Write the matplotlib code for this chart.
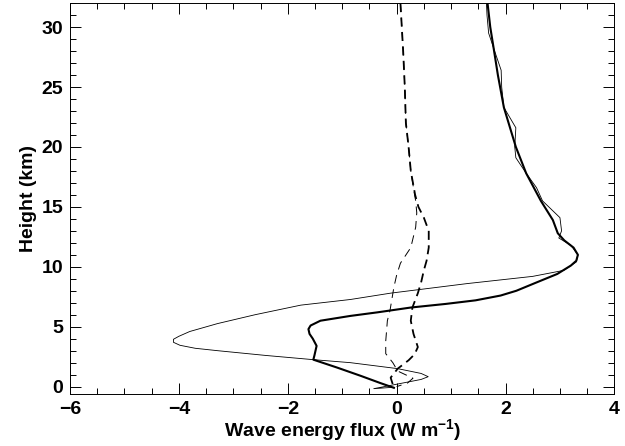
import matplotlib
matplotlib.use("Agg")
import matplotlib.pyplot as plt
from matplotlib.ticker import MultipleLocator

# thick solid profile
thick_solid_h = [32, 30, 28.3, 26, 23.3, 20, 17.8, 15.5, 13.9, 12.8, 12.2, 11.6, 11.0, 10.5,
                 10.1, 9.4, 8.6, 8.0, 7.6, 7.2, 6.9, 6.6, 6.2, 5.9, 5.5, 5.1, 4.8, 4.4, 4.0,
                 3.4, 3.0, 2.6, 2.25, 1.6, 0.9, 0.3, -0.1]
thick_solid_x = [1.67, 1.72, 1.78, 1.86, 1.97, 2.19, 2.38, 2.65, 2.87, 2.96, 3.08, 3.25, 3.33, 3.3,
                 3.2, 2.95, 2.52, 2.2, 1.91, 1.45, 0.9, 0.26, -0.35, -0.85, -1.4, -1.58, -1.62, -1.6, -1.54,
                 -1.47, -1.49, -1.51, -1.53, -1.1, -0.66, -0.3, -0.05]

# thin solid profile
thin_solid_h = [32, 31, 29.5, 28, 26.4, 25, 23.3, 21.6, 20, 19.1, 17.8, 16.6, 15.5, 14.1, 13.0, 12.4,
                11.8, 11.0, 10.4, 9.7, 9.2, 8.6, 7.8, 7.27, 6.8, 6.0, 5.26, 4.6, 4.2, 3.95, 3.7, 3.45, 3.2,
                3.0, 2.6, 2.25, 2.0, 1.5, 1.1, 0.83, 0.6, 0.2, -0.17, -0.05]
thin_solid_x = [1.65, 1.66, 1.69, 1.8, 1.92, 1.93, 1.97, 2.19, 2.17, 2.19, 2.38, 2.57, 2.68, 3.0, 3.03, 2.98,
                3.2, 3.33, 3.3, 3.07, 2.5, 1.3, -0.11, -0.85, -1.76, -2.6, -3.29, -3.8, -4.0, -4.1, -4.1, -3.98, -3.7,
                -3.29, -2.4, -1.53, -0.85, 0.02, 0.45, 0.58, 0.45, 0.0, -0.42, -0.05]

# thick dashed profile
thick_dash_h = [32, 28, 25, 22, 20, 18, 16, 15, 14.1, 13, 11.6, 10.5, 9.7, 8.7, 7.8, 6.6,
                5.5, 4.4, 3.3, 2.7, 2.2, 1.5, 0.75, -0.1]
thick_dash_x = [0.07, 0.12, 0.15, 0.17, 0.22, 0.26, 0.34, 0.4, 0.5, 0.59, 0.59, 0.55, 0.5, 0.45, 0.39, 0.29,
                0.26, 0.31, 0.39, 0.33, 0.22, 0.02, -0.11, -0.05]

# thin dashed profile
thin_dash_h = [32, 28, 25, 22, 20, 18, 16, 15.5, 14.5, 13.3, 11.6, 10.3, 9.3, 8.3, 6.4, 5.5,
               3.8, 2.75, 2.0, 1.3, 0.7, 0.3, 0.0]
thin_dash_x = [0.07, 0.12, 0.15, 0.17, 0.22, 0.26, 0.33, 0.35, 0.37, 0.35, 0.26, 0.07, 0.0, -0.05, -0.12, -0.17,
               -0.2, -0.2, -0.07, 0.02, 0.3, 0.2, 0.0]

plt.rcParams['font.family'] = ['Liberation Sans', 'DejaVu Sans']
plt.rcParams['font.weight'] = 'bold'
plt.rcParams['mathtext.fontset'] = 'custom'
plt.rcParams['mathtext.bf'] = 'Liberation Sans:bold'

fig = plt.figure(figsize=(6.25, 4.46), dpi=100)
ax = fig.add_axes([0.112, 0.117, 0.871, 0.876])

ax.plot(thin_solid_x, thin_solid_h, color='black', lw=0.6)
ax.plot(thick_solid_x, thick_solid_h, color='black', lw=1.5)
ax.plot(thin_dash_x, thin_dash_h, color='black', lw=0.7, dashes=(9, 6))
ax.plot(thick_dash_x, thick_dash_h, color='black', lw=1.3, dashes=(5, 3))

ax.set_xlim(-6, 4)
ax.set_ylim(-0.6, 32)
ax.xaxis.set_major_locator(MultipleLocator(2))
ax.xaxis.set_minor_locator(MultipleLocator(0.5))
ax.yaxis.set_major_locator(MultipleLocator(5))
ax.yaxis.set_minor_locator(MultipleLocator(1))
ax.tick_params(which='both', direction='in', top=True, right=True, width=0.7, labelsize=14)
ax.tick_params(which='major', length=8, pad=5)
ax.tick_params(which='minor', length=4)
for s in ax.spines.values():
    s.set_linewidth(0.7)

ax.set_xlabel('Wave energy flux (W m$^{\\mathbf{-1}}$)', fontsize=14, fontweight='bold', labelpad=0)
ax.set_ylabel('Height (km)', fontsize=14, fontweight='bold', labelpad=3)

fig.savefig('out.png', dpi=100)
